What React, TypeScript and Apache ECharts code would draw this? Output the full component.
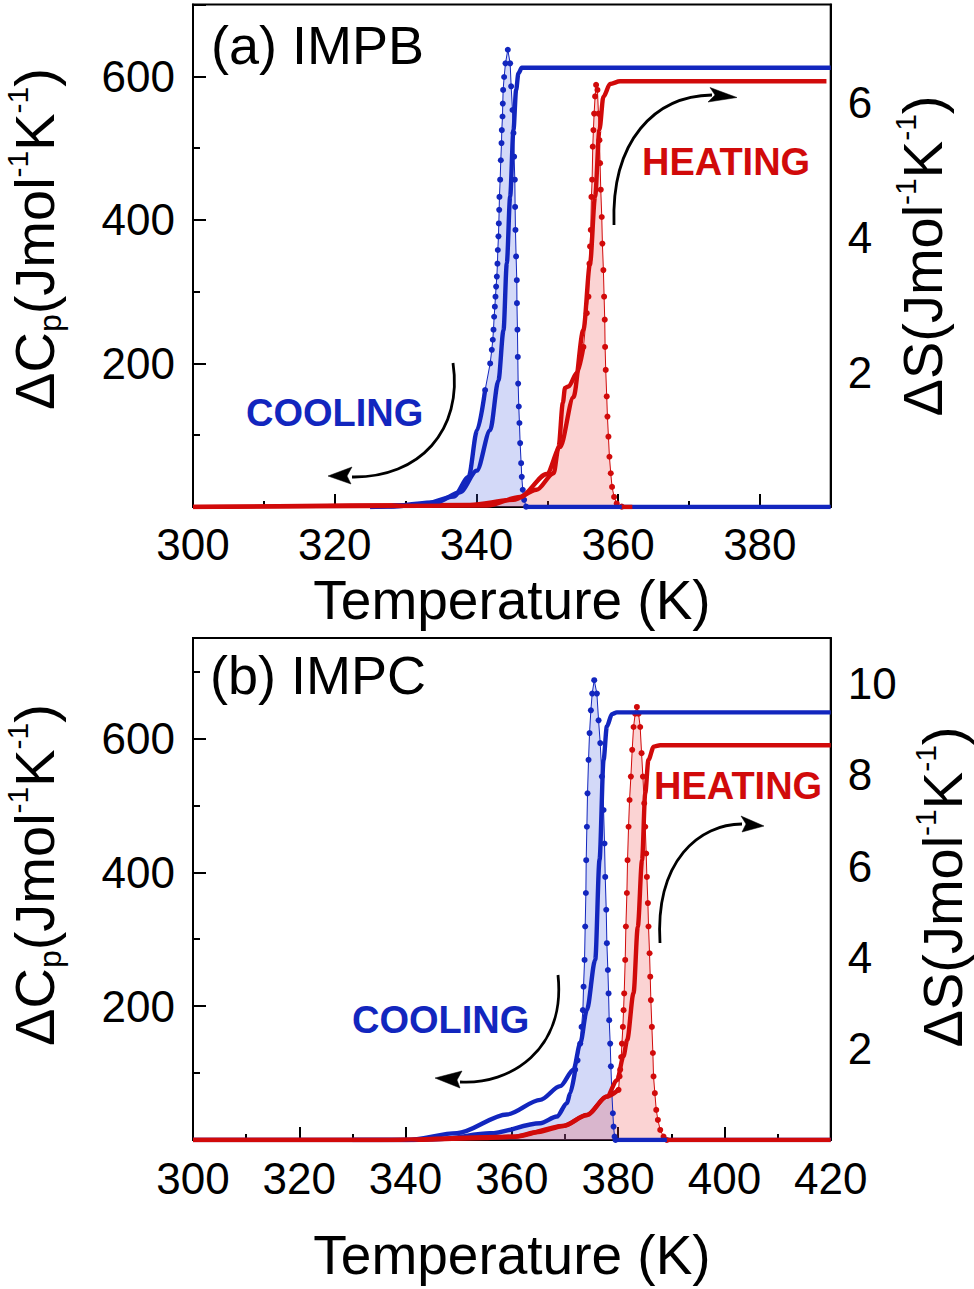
import React, { useEffect, useRef } from "react";
import * as echarts from "echarts";

// ---------- Panel (a) IMPB ----------
const tempRangeA = [300, 390];
const cpRangeA = [0, 700];
const dsRangeA = [0, 7.46];

const coolTailA = [[325, 0], [327.4, 0.5], [332.1, 3], [336.8, 14.5], [338.9, 42], [340.1, 107], [341.23, 163]];
const coolPeakA = [[341.23, 163], [341.94, 200], [342.17, 219], [342.31, 233], [342.41, 247], [342.5, 265], [342.6, 279], [342.69, 293], [342.78, 307], [342.88, 321], [342.97, 339], [343.02, 358], [343.11, 377], [343.16, 395], [343.21, 414], [343.25, 432], [343.35, 456], [343.44, 483], [343.54, 507], [343.58, 525], [343.68, 544], [343.72, 562], [343.77, 581], [343.91, 599], [344.1, 618], [344.43, 637], [344.76, 618], [344.9, 586], [345.09, 553], [345.23, 521], [345.32, 488], [345.42, 456], [345.46, 418], [345.51, 386], [345.6, 349], [345.7, 316], [345.72, 284], [345.79, 247], [345.84, 209], [345.89, 172], [345.98, 140], [346.07, 117], [346.17, 89], [346.31, 61], [346.4, 42], [346.54, 24], [346.73, 10], [347.01, 0.5]];
const coolZeroA = [[347.01, 0], [390, 0]];
const heatTailA = [[300, 0], [339.1, 3], [345.2, 10], [348.5, 24], [350.9, 47], [351.6, 84], [352.2, 145], [352.5, 166], [353.0, 168], [354.2, 187], [355.1, 223]];
const heatPeakA = [[355.1, 223], [355.57, 270], [355.81, 293], [355.95, 339], [356.04, 363], [356.14, 386], [356.23, 432], [356.33, 456], [356.42, 502], [356.51, 525], [356.61, 548], [356.75, 572], [356.89, 588], [357.08, 581], [357.22, 548], [357.36, 511], [357.45, 479], [357.55, 442], [357.69, 404], [357.78, 367], [357.92, 330], [358.02, 293], [358.11, 261], [358.16, 223], [358.25, 191], [358.39, 154], [358.49, 126], [358.63, 98], [358.77, 70], [358.96, 47], [359.14, 28], [359.43, 14], [359.8, 5], [360.51, 0.5]];
const heatZeroA = [[360.51, 0], [362, 0]];
const coolDSA = [[325, 0], [327.36, 0.01], [334.41, 0.07], [337.71, 0.22], [340.06, 0.54], [341.94, 1.14], [343.11, 1.88], [343.82, 2.62], [344.29, 3.62], [344.76, 4.61], [345.23, 5.6], [345.6, 6.19], [345.93, 6.44], [346.4, 6.52], [390, 6.52]];
const heatDSA = [[300, 0], [341.5, 0.02], [346.17, 0.15], [349.93, 0.49], [351.81, 0.89], [353.69, 1.63], [355.1, 2.63], [356.04, 3.62], [356.75, 4.61], [357.36, 5.6], [357.92, 6.09], [358.86, 6.28], [360.27, 6.32], [389.4, 6.32]];

// ---------- Panel (b) IMPC ----------
const tempRangeB = [300, 420];
const cpRangeB = [0, 750];
const dsRangeB = [0, 11];

const coolTailB = [[330, 0], [340.25, 0], [346.52, 1.5], [355.93, 10], [365.34, 25], [368.47, 35], [370.36, 55], [370.98, 70], [371.92, 105]];
const coolPeakB = [[371.92, 105], [372.37, 119], [372.87, 144], [373.12, 169], [373.37, 194], [373.49, 229], [373.68, 269], [373.8, 319], [373.93, 369], [373.99, 418], [374.12, 468], [374.24, 518], [374.43, 568], [374.62, 608], [374.87, 642], [375.12, 667], [375.5, 687], [376.0, 667], [376.32, 627], [376.63, 593], [376.94, 543], [377.26, 493], [377.44, 443], [377.57, 393], [377.76, 344], [377.88, 294], [378.07, 254], [378.2, 219], [378.32, 179], [378.51, 144], [378.64, 110], [378.82, 70], [379.01, 40], [379.14, 20], [379.33, 5], [379.51, 0]];
const coolZeroB = [[379.51, 0], [420, 0]];
const heatTailB = [[300, 0], [340, 0], [355, 3], [360.3, 5], [365, 12], [369.7, 21], [374.1, 37], [377.9, 65], [380.08, 75]];
const heatPeakB = [[380.08, 75], [380.27, 95], [380.39, 105], [380.58, 124], [380.71, 144], [380.89, 169], [381.02, 194], [381.14, 219], [381.33, 269], [381.46, 319], [381.65, 369], [381.77, 418], [381.96, 468], [382.15, 508], [382.4, 543], [382.65, 583], [382.9, 617], [383.21, 637], [383.53, 647], [383.84, 637], [384.15, 617], [384.41, 578], [384.66, 543], [384.91, 503], [385.1, 468], [385.28, 428], [385.41, 393], [385.6, 354], [385.72, 319], [385.91, 279], [386.04, 244], [386.16, 209], [386.35, 169], [386.54, 130], [386.66, 95], [386.91, 70], [387.17, 45], [387.48, 30], [387.92, 15], [388.55, 5], [389.17, 0]];
const heatZeroB = [[389.17, 0], [420, 0]];
const coolDSB = [[300, 0], [340.25, 0], [349.66, 0.15], [359.07, 0.56], [365.34, 0.88], [369.1, 1.18], [371.61, 1.54], [372.87, 2.12], [374.12, 2.85], [375.69, 3.95], [376.5, 6.14], [377.26, 8.33], [377.88, 9.06], [378.82, 9.33], [379.76, 9.37], [420, 9.37]];
const heatDSB = [[300, 0], [335.2, 0], [360.3, 0.07], [369.7, 0.31], [374.1, 0.55], [377.9, 0.95], [379.8, 1.31], [381.0, 1.83], [381.7, 2.19], [382.9, 3.22], [383.7, 4.67], [384.5, 6.13], [385.1, 7.6], [385.7, 8.33], [386.7, 8.62], [387.9, 8.65], [420, 8.65]];

const panelLabels = ["(a) IMPB", "(b) IMPC"];
const processLabels = ["HEATING", "COOLING"];

// ---------- style ----------
const BLUE = "#1226BE";
const RED = "#D10A0A";
const BLUE_FILL = "rgba(70,95,225,0.24)";
const RED_FILL = "rgba(238,70,70,0.24)";
const FONT = '"Liberation Sans", Arial, Helvetica, sans-serif';

type Pt = number[];
type Panel = {
  coolTail: Pt[]; coolPeak: Pt[]; coolZero: Pt[];
  heatTail: Pt[]; heatPeak: Pt[]; heatZero: Pt[];
  coolDS: Pt[]; heatDS: Pt[];
};

const panels: Panel[] = [
  { coolTail: coolTailA, coolPeak: coolPeakA, coolZero: coolZeroA, heatTail: heatTailA, heatPeak: heatPeakA, heatZero: heatZeroA, coolDS: coolDSA, heatDS: heatDSA },
  { coolTail: coolTailB, coolPeak: coolPeakB, coolZero: coolZeroB, heatTail: heatTailB, heatPeak: heatPeakB, heatZero: heatZeroB, coolDS: coolDSB, heatDS: heatDSB },
];

function panelSeries(g: number, p: Panel): any[] {
  const xi = g, yl = 2 * g, yr = 2 * g + 1;
  const full = (t: Pt[], pk: Pt[], z: Pt[]) => [...t, ...pk.slice(1), ...z.slice(1)];
  const area = (data: Pt[], fill: string) => ({
    type: "line", xAxisIndex: xi, yAxisIndex: yl, data, showSymbol: false, silent: true,
    lineStyle: { width: 0, opacity: 0 }, areaStyle: { color: fill, opacity: 1 }, z: 1,
  });
  const dots = (data: Pt[], color: string) => ({
    type: "line", xAxisIndex: xi, yAxisIndex: yl, data, symbol: "circle", symbolSize: 6,
    showAllSymbol: true, color, itemStyle: { color }, lineStyle: { color, width: 1 }, z: 3,
  });
  const thick = (data: Pt[], color: string, yIdx: number, smooth: number) => ({
    type: "line", xAxisIndex: xi, yAxisIndex: yIdx, data, showSymbol: false, color,
    smooth, smoothMonotone: "x", lineStyle: { color, width: 4.4 }, z: 4,
  });
  return [
    area(full(p.coolTail, p.coolPeak, p.coolZero), BLUE_FILL),
    area(full(p.heatTail, p.heatPeak, p.heatZero), RED_FILL),
    dots(p.coolPeak, BLUE),
    dots(p.heatPeak, RED),
    thick(p.coolTail, BLUE, yl, 0.3),
    thick(p.coolZero, BLUE, yl, 0),
    thick(p.heatTail, RED, yl, 0.3),
    thick(p.heatZero, RED, yl, 0),
    thick(p.coolDS, BLUE, yr, 0.3),
    thick(p.heatDS, RED, yr, 0.3),
  ];
}

const labelStyle = { fontSize: 44, color: "#000", fontFamily: FONT };
const axisLineStyle = { show: true, lineStyle: { color: "#000", width: 2 } };

function xAxisCfg(g: number, range: number[], hideMax: boolean, margin: number) {
  return {
    type: "value", gridIndex: g, min: range[0], max: range[1], interval: 20,
    axisLine: axisLineStyle,
    axisTick: { show: true, inside: true, length: 13, lineStyle: { color: "#000", width: 2 } },
    minorTick: { show: true, splitNumber: 2, length: 6, lineStyle: { color: "#000", width: 2 } },
    axisLabel: { ...labelStyle, margin, showMaxLabel: !hideMax },
    splitLine: { show: false },
  };
}
function yLeftCfg(g: number, range: number[]) {
  return {
    type: "value", gridIndex: g, position: "left", min: range[0], max: range[1], interval: 200,
    axisLine: axisLineStyle,
    axisTick: { show: true, inside: true, length: 13, lineStyle: { color: "#000", width: 2 } },
    minorTick: { show: true, splitNumber: 2, length: 7, lineStyle: { color: "#000", width: 2 } },
    axisLabel: { ...labelStyle, margin: 18, showMinLabel: false, showMaxLabel: false },
    splitLine: { show: false },
  };
}
function yRightCfg(g: number, range: number[]) {
  return {
    type: "value", gridIndex: g, position: "right", min: range[0], max: range[1], interval: 2,
    axisLine: axisLineStyle,
    axisTick: { show: false },
    axisLabel: { ...labelStyle, margin: 17, showMinLabel: false, showMaxLabel: false },
    splitLine: { show: false },
  };
}

function text(x: number, y: number, t: string, size: number, color: string, bold = false): any {
  return {
    type: "text", x, y, z: 100,
    style: {
      text: t, fill: color, fontSize: size, fontFamily: FONT, fontWeight: bold ? "bold" : "normal",
      align: "left", verticalAlign: "middle", textAlign: "left", textVerticalAlign: "middle",
    },
  };
}

const richTitle = {
  m: { fontSize: 56, fontFamily: FONT, fill: "#000", color: "#000", lineHeight: 64 },
  sub: { fontSize: 32, fontFamily: FONT, fill: "#000", color: "#000", lineHeight: 19, verticalAlign: "bottom" },
  sup: { fontSize: 30, fontFamily: FONT, fill: "#000", color: "#000", lineHeight: 28, verticalAlign: "top" },
};

function vTitle(x: number, y: number, t: string): any {
  return {
    type: "text", x, y, rotation: Math.PI / 2, z: 100,
    style: {
      text: t, rich: richTitle, fill: "#000",
      align: "center", verticalAlign: "middle", textAlign: "center", textVerticalAlign: "middle",
    },
  };
}
function hTitle(x: number, y: number): any {
  return {
    type: "text", x, y, z: 100,
    style: {
      text: "Temperature (K)", fill: "#000", fontSize: 55, fontFamily: FONT,
      align: "center", verticalAlign: "middle", textAlign: "center", textVerticalAlign: "middle",
    },
  };
}

function arrow(curve: number[], head: number[][]): any[] {
  const [x1, y1, cpx1, cpy1, cpx2, cpy2, x2, y2] = curve;
  return [
    { type: "bezierCurve", z: 100, shape: { x1, y1, cpx1, cpy1, cpx2, cpy2, x2, y2 }, style: { stroke: "#000", lineWidth: 2.8, fill: null } },
    { type: "polygon", z: 100, shape: { points: head }, style: { fill: "#000", stroke: "#000", lineWidth: 0.5 } },
  ];
}

const CP_TITLE = "{m|ΔC}{sub|p}{m|(Jmol}{sup|-1}{m|K}{sup|-1}{m|)}";
const DS_TITLE = "{m|ΔS(Jmol}{sup|-1}{m|K}{sup|-1}{m|)}";

export default function App() {
  const ref = useRef<HTMLDivElement>(null);
  useEffect(() => {
    if (!ref.current) return;
    const chart = echarts.init(ref.current, undefined, { renderer: "svg" });
    const option: any = {
      animation: false,
      backgroundColor: "#fff",
      grid: [
        { left: 193, top: 4.5, width: 637.7, height: 502.5, show: true, borderColor: "#000", borderWidth: 2, backgroundColor: "transparent" },
        { left: 193, top: 638, width: 637.7, height: 502, show: true, borderColor: "#000", borderWidth: 2, backgroundColor: "transparent" },
      ],
      xAxis: [xAxisCfg(0, tempRangeA, true, 15), xAxisCfg(1, tempRangeB, false, 16)],
      yAxis: [yLeftCfg(0, cpRangeA), yRightCfg(0, dsRangeA), yLeftCfg(1, cpRangeB), yRightCfg(1, dsRangeB)],
      series: [...panelSeries(0, panels[0]), ...panelSeries(1, panels[1])],
      graphic: [
        text(211, 45, panelLabels[0], 54, "#000"),
        text(642, 162, processLabels[0], 38, RED, true),
        text(246, 413, processLabels[1], 38, BLUE, true),
        text(210, 675, panelLabels[1], 54, "#000"),
        text(654, 786, processLabels[0], 38, RED, true),
        text(352, 1020, processLabels[1], 38, BLUE, true),
        vTitle(34, 239, CP_TITLE),
        vTitle(922, 256, DS_TITLE),
        vTitle(34, 875, CP_TITLE),
        vTitle(942, 887, DS_TITLE),
        hTitle(512, 600),
        hTitle(512, 1255),
        ...arrow([614, 225, 611, 140, 655, 96, 712, 95], [[737, 97.5], [710, 87.5], [715, 95], [708, 102]]),
        ...arrow([453, 363, 463, 430, 420, 478, 352, 477], [[328, 476], [352, 467], [347, 476], [351, 484]]),
        ...arrow([660, 943, 655, 860, 700, 824, 742, 824], [[764, 826], [741, 816], [746, 824], [742, 832]]),
        ...arrow([558, 975, 566, 1050, 510, 1085, 460, 1082], [[435, 1078], [462, 1071], [457, 1080], [460, 1088]]),
      ],
    };
    chart.setOption(option);
    return () => chart.dispose();
  }, []);
  return <div ref={ref} style={{ position: "fixed", left: 0, top: 0, width: 974, height: 1289, background: "#fff" }} />;
}
